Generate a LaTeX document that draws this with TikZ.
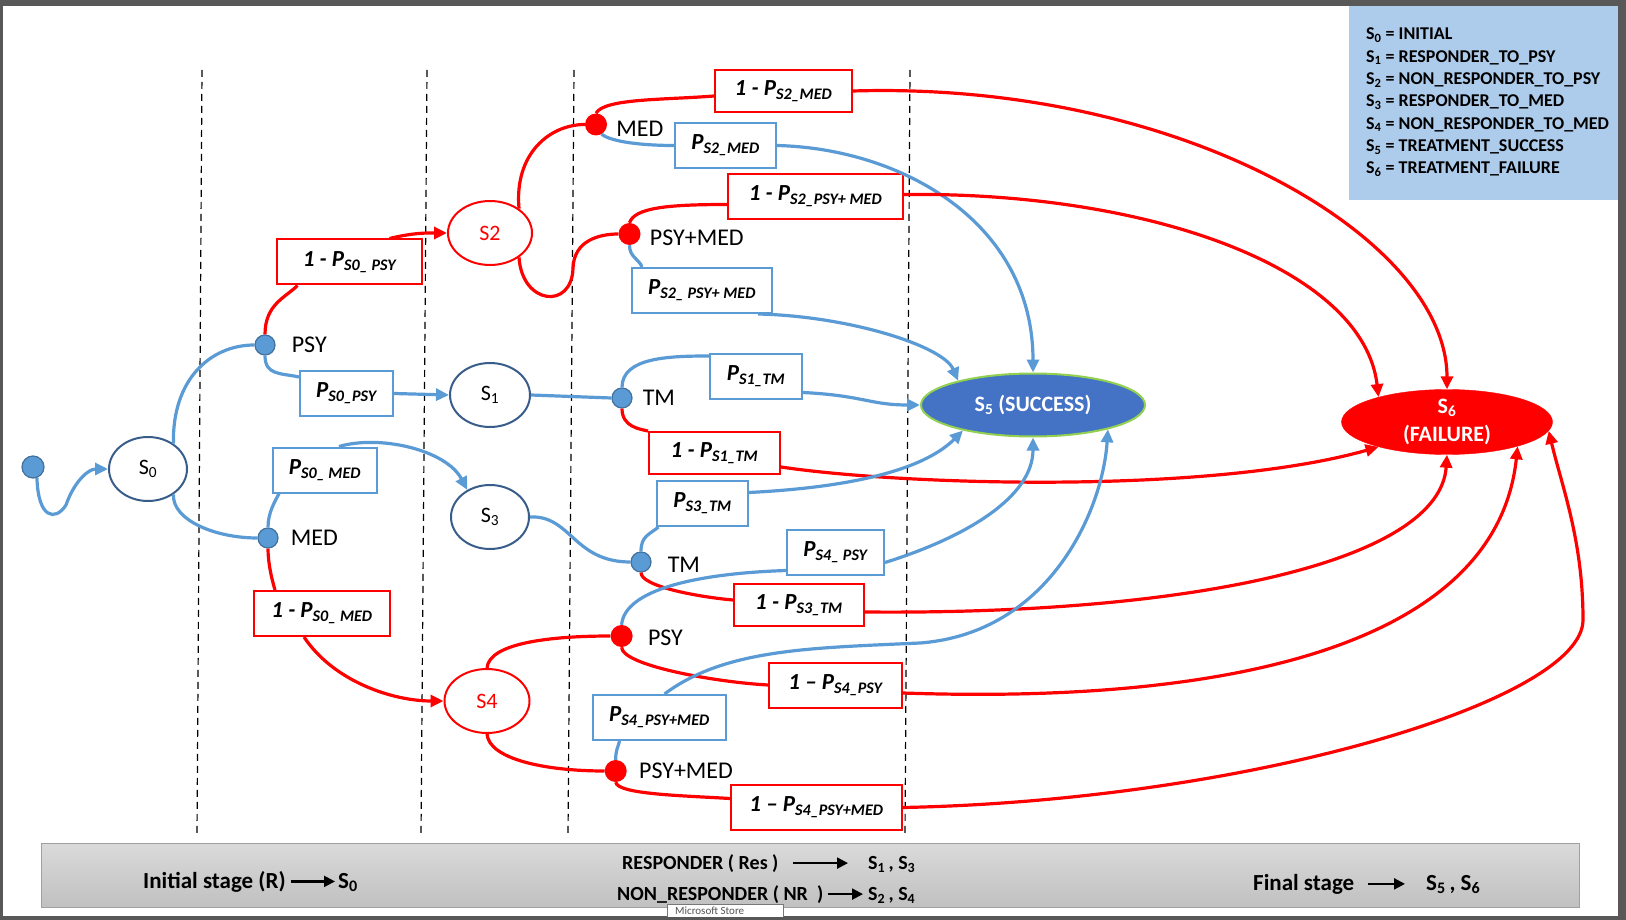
\documentclass[tikz,border=0pt]{standalone}
\usepackage{fontspec}
\setmainfont{Carlito}
\usepackage{tikz}
\usetikzlibrary{positioning,arrows.meta,shapes.geometric}
\definecolor{edgeblue}{RGB}{91,155,213}
\definecolor{dotrim}{RGB}{65,113,156}
\definecolor{staterim}{RGB}{56,93,138}
\definecolor{succblue}{RGB}{68,114,196}
\definecolor{succgreen}{RGB}{146,208,80}
\definecolor{legblue}{RGB}{173,203,234}
\definecolor{framegray}{RGB}{88,88,88}
\definecolor{bartop}{RGB}{218,218,218}
\definecolor{barbot}{RGB}{192,192,192}
\definecolor{barline}{RGB}{160,160,160}
\definecolor{tipgray}{RGB}{120,120,120}
\newcommand{\pval}[1]{P\textsubscript{#1}}

\begin{document}
\begin{tikzpicture}[
    x=1pt, y=-1pt,
    >={Triangle[length=13pt,width=12pt]},
    every node/.style={font=\fontsize{23}{26}\selectfont},
    stnode/.style={
        ellipse, draw=staterim, line width=2pt, fill=white,
        minimum width=80pt, minimum height=64pt, inner sep=0pt,
        font=\fontsize{22}{24}\selectfont
    },
    bdot/.style={circle, fill=edgeblue, draw=dotrim, line width=1.2pt, minimum size=20pt, inner sep=0pt},
    rdot/.style={circle, fill=red, minimum size=22pt, inner sep=0pt},
    dotlabel/.style={inner sep=0pt, font=\fontsize{24}{26}\selectfont},
    pbox/.style={
        rectangle, draw=edgeblue, line width=2pt, fill=white,
        minimum height=45pt, inner sep=0pt,
        font=\fontsize{23}{26}\selectfont\bfseries\itshape
    },
    qbox/.style={pbox, draw=red},
    blueedge/.style={draw=edgeblue, line width=3.2pt},
    rededge/.style={draw=red, line width=3.2pt},
    sepline/.style={black, line width=1.2pt, dash pattern=on 7pt off 5pt},
    legtext/.style={anchor=base west, inner sep=0pt, font=\fontsize{18}{22}\selectfont\bfseries},
    bartext/.style={anchor=base west, inner sep=0pt, font=\fontsize{23}{26}\selectfont\bfseries},
    smalltext/.style={anchor=base west, inner sep=0pt, font=\fontsize{20}{24}\selectfont\bfseries},
    bararrow/.style={line width=2.2pt, -{Triangle[length=11pt,width=11pt]}}
]

% frame and background
\fill[framegray] (0,0) rectangle (1626,920);
\fill[white] (3,6) rectangle (1618,916);

% legend
\node[fill=legblue, minimum width=269pt, minimum height=194pt, anchor=north west, inner sep=0pt] (legend) at (1349,6) {};
\foreach \i/\t in {0/INITIAL, 1/RESPONDER\_TO\_PSY, 2/NON\_RESPONDER\_TO\_PSY, 3/RESPONDER\_TO\_MED,
                   4/NON\_RESPONDER\_TO\_MED, 5/TREATMENT\_SUCCESS, 6/TREATMENT\_FAILURE}
    \node[legtext] (leg\i) at (1366, 40+22.3*\i) {S\textsubscript{\i} = \t};

% stage separators
\foreach \xa/\xb in {202/197, 427/421, 574/568, 910/905}
    \draw[sepline] (\xa,70) -- (\xb,835);

% states
\node[bdot, minimum size=22pt] (start) at (33,467) {};
\node[stnode, minimum width=78pt] (S0) at (148,469) {S\textsubscript{0}};
\node[stnode] (S1) at (490,395) {S\textsubscript{1}};
\node[stnode, minimum width=84pt, draw=red, text=red] (S2) at (490,233) {S2};
\node[stnode, minimum width=78pt] (S3) at (490,517) {S\textsubscript{3}};
\node[stnode, minimum width=85pt, draw=red, text=red] (S4) at (487,701) {S4};
\node[ellipse, fill=succblue, draw=succgreen, line width=2pt, minimum width=224pt, minimum height=63pt,
      inner sep=0pt, text=white, font=\fontsize{22}{24}\selectfont\bfseries] (S5) at (1033,405) {S\textsubscript{5} (SUCCESS)};
\node[ellipse, fill=red, draw=red, minimum width=211pt, minimum height=65pt, inner sep=0pt, align=center,
      text=white, font=\fontsize{22}{28}\selectfont\bfseries] (S6) at (1447,422) {S\textsubscript{6}\\(FAILURE)};

% treatment choices
\node[bdot] (PSY) at (265,345) {};
\node[bdot] (MED) at (268,538) {};
\node[bdot] (TM1) at (622,398) {};
\node[bdot] (TM3) at (641,562) {};
\node[rdot] (MED2) at (596,124.5) {};
\node[rdot] (PM2) at (629.5,234) {};
\node[rdot] (PSY4) at (621.6,636) {};
\node[rdot] (PM4) at (615.7,771) {};

\node[dotlabel, right=16pt of PSY] (lPSY) {PSY};
\node[dotlabel, right=12pt of MED] (lMED) {MED};
\node[dotlabel, right=10pt of TM1] (lTM1) {TM};
\node[dotlabel, right=16pt of TM3, yshift=-3pt] (lTM3) {TM};
\node[dotlabel, right=9pt of MED2, yshift=-4pt] (lMED2) {MED};
\node[dotlabel, right=9pt of PM2, yshift=-4pt] (lPM2) {PSY+MED};
\node[dotlabel, right=15pt of PSY4, yshift=-2pt] (lPSY4) {PSY};
\node[dotlabel, right=12pt of PM4] (lPM4) {PSY+MED};

% probabilities
\node[qbox, minimum width=145pt] (R1) at (349.5,262) {1 - \pval{S0\_ PSY}};
\node[pbox, minimum width=93pt] (B1) at (346.5,393.5) {\pval{S0\_PSY}};
\node[pbox, minimum width=104pt] (B2) at (325,470) {\pval{S0\_ MED}};
\node[qbox, minimum width=136pt] (R2) at (322,613.5) {1 - \pval{S0\_ MED}};
\node[qbox, minimum width=137pt, minimum height=42pt] (R3) at (783.5,91) {1 - \pval{S2\_MED}};
\node[pbox, minimum width=101pt] (B3) at (725.5,145.5) {\pval{S2\_MED}};
\node[qbox, minimum width=175pt] (R4) at (815.5,196.5) {1 - \pval{S2\_PSY+ MED}};
\node[pbox, minimum width=140pt] (B4) at (702,290.5) {\pval{S2\_ PSY+ MED}};
\node[pbox, minimum width=92pt] (B5) at (756,376.5) {\pval{S1\_TM}};
\node[qbox, minimum width=131pt, minimum height=42pt] (R5) at (714.5,453) {1 - \pval{S1\_TM}};
\node[pbox, minimum width=91pt] (B6) at (702.5,503.5) {\pval{S3\_TM}};
\node[pbox, minimum width=97pt] (B7) at (835.5,552.5) {\pval{S4\_ PSY}};
\node[qbox, minimum width=130pt, minimum height=42pt] (R6) at (799,605) {1 - \pval{S3\_TM}};
\node[qbox, minimum width=133pt] (R7) at (835.5,685) {1 -- \pval{S4\_PSY}};
\node[pbox, minimum width=133pt] (B8) at (659.5,717.5) {\pval{S4\_PSY+MED}};
\node[qbox, minimum width=171pt] (R8) at (816.5,807.5) {1 -- \pval{S4\_PSY+MED}};

% entry and first choice
\draw[blueedge, ->] (start.-70) .. controls (38,518) and (55,522) .. (66,505) .. controls (74,482) and (88,469) .. (S0.west);
\draw[blueedge] (S0.45) .. controls (172,380) and (210,345) .. (PSY.west);
\draw[blueedge] (S0.-45) .. controls (172,520) and (215,538) .. (MED.west);

\draw[rededge] (PSY.north) .. controls +(0,-30) and +(-12,12) .. ([xshift=-52pt]R1.south);
\draw[rededge, ->] ([xshift=40pt]R1.north) .. controls +(25,-6) and +(-20,0) .. (S2.west);
\draw[blueedge] (PSY.south) .. controls +(0,20) and +(-18,-4) .. ([yshift=-7pt]B1.north west);
\draw[blueedge, ->] (B1.east) -- (S1.west);

\draw[blueedge] (MED.north) .. controls +(0,-15) and +(-4,8) .. ([xshift=-46pt]B2.south);
\draw[blueedge, ->] ([xshift=14pt]B2.north) .. controls +(41,-12) and +(-21,-40) .. (S3.130);
\draw[rededge] (MED.south) .. controls +(0,15) and +(-3,-10) .. ([xshift=-47pt]R2.north);
\draw[rededge, ->] ([xshift=-18pt]R2.south) .. controls +(30,45) and +(-50,0) .. (S4.west);

% responders
\draw[blueedge] (S1.east) -- (TM1.west);
\draw[blueedge] (S3.east) .. controls +(41,-2) and +(-57,0) .. (TM3.west);

% non responders to psy
\draw[rededge] (S2.40) .. controls +(-5,-55) and +(-35,0) .. (MED2.west);
\draw[rededge] (S2.-40) .. controls (522,305) and (572,310) .. (573,268) .. controls (574,240) and (600,234) .. (PM2.west);

\draw[rededge] (MED2.north) .. controls +(8,-15) and +(-50,4) .. ([yshift=-5pt]R3.west);
\draw[rededge, ->] (R3.east) .. controls +(330,-10) and +(0,-150) .. (S6.north);
\draw[blueedge] (MED2.-60) .. controls +(10,8) and +(-30,0) .. (B3.west);
\draw[blueedge, ->] (B3.east) .. controls +(125,3) and +(0,-150) .. (S5.north);
\draw[rededge] (PM2.north) .. controls +(5,-15) and +(-60,0) .. ([yshift=-8pt]R4.west);
\draw[rededge, ->] ([yshift=2pt]R4.east) .. controls +(247,-3) and +(-15,-128) .. (S6.160);
\draw[blueedge] (PM2.south) .. controls +(0,12) and +(-3,-8) .. ([xshift=-60pt]B4.north);
\draw[blueedge, ->] ([xshift=-15pt]B4.south east) .. controls +(90,2) and +(-15,-35) .. (S5.162);

% maintenance
\draw[blueedge] (TM1.north) .. controls +(0,-30) and +(-40,0) .. ([yshift=-3pt]B5.north west);
\draw[blueedge, ->] ([yshift=-16pt]B5.east) .. controls +(60,3) and +(-50,0) .. (S5.west);
\draw[rededge] (TM1.south) .. controls +(0,18) and +(-9,-2) .. (R5.north west);
\draw[rededge, ->] ([yshift=-14pt]R5.east) .. controls +(120,18) and +(-170,48) .. (S6.200);

\draw[blueedge] (TM3.north) .. controls +(0,-15) and +(-10,8) .. ([xshift=-44pt]B6.south);
\draw[blueedge, ->] ([yshift=11pt]B6.east) .. controls +(80,-4) and +(-45,45) .. (S5.200);
\draw[rededge] (TM3.south) .. controls +(0,14) and +(-34,-3) .. ([yshift=5pt]R6.west);
\draw[rededge, ->] ([yshift=-7pt]R6.east) .. controls +(336,3) and +(-7,105) .. (S6.south);

% non responders to med
\draw[rededge] (S4.north) .. controls +(2,-25) and +(-60,0) .. (PSY4.west);
\draw[rededge] (S4.south) .. controls +(2,25) and +(-60,0) .. (PM4.west);

\draw[blueedge] (PSY4.north) .. controls +(3,-35) and +(-90,3) .. ([yshift=-18pt]B7.west);
\draw[blueedge, ->] ([yshift=-10pt]B7.east) .. controls +(80,-25) and +(0,60) .. (S5.south);
\draw[rededge] (PSY4.south) .. controls +(0,18) and +(-54,-3) .. (R7.west);
\draw[rededge, ->] ([yshift=-8pt]R7.east) .. controls +(350,12) and +(-20,190) .. (S6.-19);

\draw[blueedge] (PM4.north) .. controls +(0,-10) and +(-2,8) .. ([xshift=-40pt]B8.south);
\draw[blueedge, ->] ([xshift=5pt]B8.north) .. controls +(60,-45) and +(-110,5) .. (920,643)
    .. controls +(130,-10) and +(-5,80) .. (S5.-18);
\draw[rededge] (PM4.south) .. controls +(2,12) and +(-50,-3) .. ([yshift=9pt]R8.west);
\draw[rededge, ->] (R8.east) .. controls +(348,-7) and +(0,80) .. (1583,620)
    .. controls +(0,-80) and +(13,55) .. (S6.-5);

% stage bar
\node[draw=barline, line width=1pt, top color=bartop, bottom color=barbot, minimum width=1538pt,
      minimum height=64pt, anchor=north west, inner sep=0pt] (bar) at (41,843) {};
\node[bartext] (init) at (143,888) {Initial stage (R)};
\node[bartext] (initS) at (338,888) {S\textsubscript{0}};
\draw[bararrow] ([xshift=5pt]init.east) -- ([xshift=-3pt]initS.west |- init.east);

\node[smalltext] (resp) at (622,869) {RESPONDER ( Res )};
\node[smalltext] (respS) at (868,869) {S\textsubscript{1}\,, S\textsubscript{3}};
\draw[bararrow] ([xshift=14pt]resp.east) -- ([xshift=-20pt]respS.west |- resp.east);

\node[smalltext] (nonresp) at (617,900) {NON\_RESPONDER ( NR\ \ )};
\node[smalltext] (nonrespS) at (868,900) {S\textsubscript{2}\,, S\textsubscript{4}};
\draw[bararrow] ([xshift=5pt]nonresp.east) -- ([xshift=-5pt]nonrespS.west |- nonresp.east);

\node[bartext] (final) at (1253,890) {Final stage};
\node[bartext] (finalS) at (1426,890) {S\textsubscript{5}\,, S\textsubscript{6}};
\draw[bararrow] ([xshift=14pt]final.east) -- ([xshift=-21pt]finalS.west |- final.east);

% tooltip left on the screen
\begin{scope}
    \clip (3,6) rectangle (1618,916);
    \draw[tipgray, fill=white, line width=0.8pt] (667,904) rectangle (783,930);
\end{scope}
\node[anchor=base west, inner sep=0pt, text=tipgray!70!black, font=\fontsize{11}{11}\selectfont] (tip) at (675,914.5) {Microsoft Store};

\end{tikzpicture}
\end{document}
